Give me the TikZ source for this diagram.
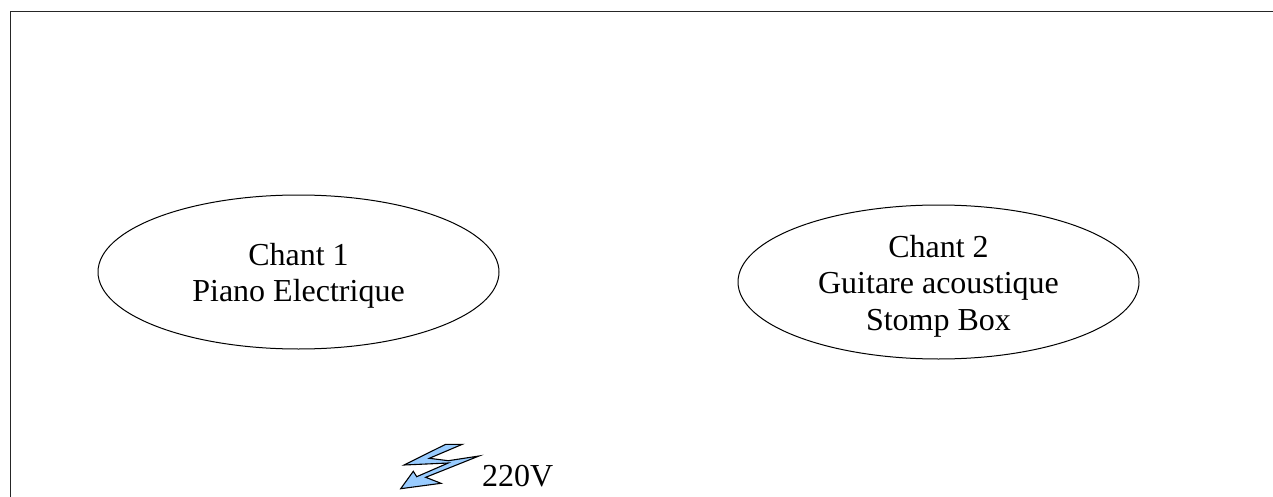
\documentclass[tikz,border=0pt]{standalone}
\usepackage{fontspec}
\setmainfont{Liberation Serif}
\usetikzlibrary{shapes.geometric}
\definecolor{boltblue}{RGB}{153,204,255}
\tikzset{
  oval/.style={draw=black,line width=1pt,ellipse,minimum width=401pt,minimum height=154pt,inner sep=0pt},
  lab/.style={inner sep=0pt,align=center,font=\fontsize{32}{36.5}\selectfont},
  frameline/.style={draw=black!85,line width=1.3pt},
  bolt/.style={draw=black,fill=boltblue,line width=1.1pt,line join=miter}
}
\begin{document}
\begin{tikzpicture}[x=1pt,y=-1pt]
\useasboundingbox (0,0) rectangle (1273,497);
\fill[white] (0,0) rectangle (1273,497);
\draw[frameline] (10.5,497) -- (10.5,11.5) -- (1273,11.5);
\node[oval,label={[lab,yshift=-4pt]center:{Chant 1\\Piano Electrique}}] (a) at (298.5,272) {};
\node[oval,label={[lab,yshift=-4pt]center:{Chant 2\\Guitare acoustique\\Stomp Box}}] (b) at (938.5,282) {};
\draw[bolt] (404,465) -- (445.7,444.3) -- (462.3,444.3) -- (429.3,458.3) -- (448.3,460.7) -- (479,456) -- (425.7,477.3) -- (441,483.3) -- (400.7,488.7) -- (413.3,471.3) -- (416.7,476.7) -- (448.3,463) -- cycle;
\node[lab,anchor=base west] (v) at (482,486.5) {220V};
\end{tikzpicture}
\end{document}
